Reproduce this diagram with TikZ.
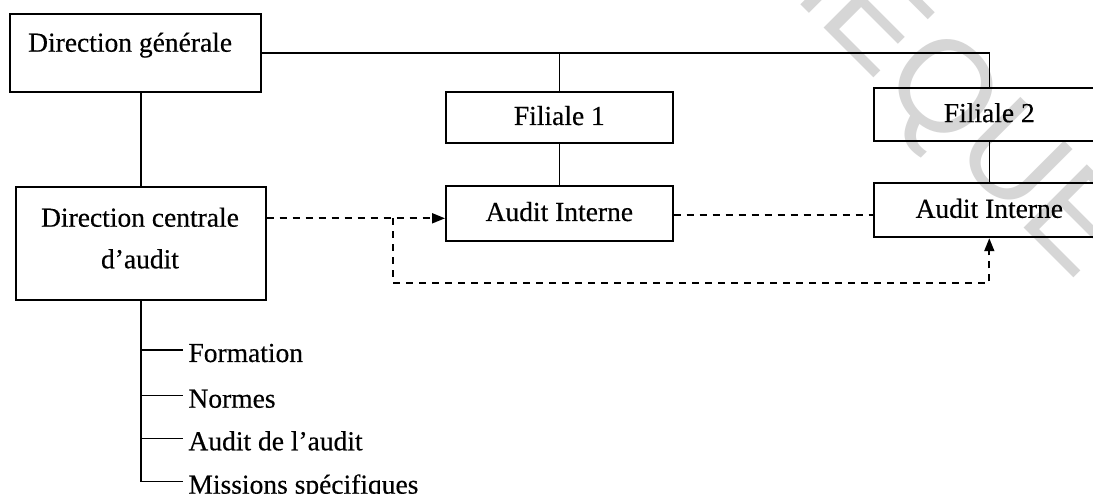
\documentclass[tikz,border=0pt]{standalone}
\usepackage{fontspec}
\setmainfont{Liberation Serif}
\newfontfamily\diagfont{Liberation Serif}[FakeBold=0.4]
\newfontfamily\stampfont{Liberation Sans}
\usetikzlibrary{arrows.meta}

\begin{document}
\begin{tikzpicture}[x=1pt,y=-1pt,
  box/.style={draw, rectangle, line width=1.9pt, inner sep=0pt},
  lbl/.style={font=\diagfont\fontsize{27.5}{33}\selectfont, inner sep=0pt},
  boxlbl/.style={box, font=\diagfont\fontsize{27.5}{33}\selectfont, text height=18pt, text depth=3pt},
  conn/.style={line width=1.5pt},
  link/.style={line width=1.8pt, dash pattern=on 7pt off 6pt},
  tip/.style={-{Triangle[length=13pt,width=10pt]}},
  item/.style={lbl, anchor=west, inner xsep=5pt, inner ysep=0pt, text height=26pt, text depth=2pt},
  stamp/.style={font=\stampfont\fontsize{130}{130}\selectfont, text=black!16, rotate=-45,
                inner sep=0pt, text height=93pt, text depth=0pt}
]
% page
\fill[white] (0,0) rectangle (1093,494);
\useasboundingbox (0,0) rectangle (1093,494);

% library stamp in the background
\begin{scope}
  \clip (0,0) rectangle (1093,494);
  \node[stamp] (wq) at (947,85) {Q};
  \node[stamp, anchor=west] (wue) at (wq.east) {UE};
  \node[stamp, anchor=east] (wbe) at (wq.west) {BIBLIOTHE};
\end{scope}

% head office
\node[box, minimum width=250.7pt, minimum height=77.7pt] (dg) at (135.35,52.85) {};
\node[lbl, anchor=base west] (dgt) at (28,51.7) {Direction générale};

% subsidiaries and their internal audit
\node[boxlbl, minimum width=226.7pt, minimum height=51.6pt] (f1) at (559.35,117.5) {Filiale 1};
\node[boxlbl, minimum width=226.7pt, minimum height=55pt] (ai1) at (559.35,213.5) {Audit Interne};
\node[boxlbl, minimum width=230.6pt, minimum height=52.7pt] (f2) at (989.3,114.65) {Filiale 2};
\node[boxlbl, minimum width=230.6pt, minimum height=54pt] (ai2) at (989.3,210.3) {Audit Interne};

% central audit department
\node[box, minimum width=249.7pt, minimum height=112.7pt] (dca) at (140.85,243.65) {};
\node[lbl, anchor=base] (dcat1) at (140,226.7) {Direction centrale};
\node[lbl, anchor=base] (dcat2) at (140,268.3) {d’audit};

% hierarchy
\draw[conn] (dg.east) -| (f2.north);
\draw[conn] (f1.north) -- (f1.north |- dg.east);
\draw[conn] (dca.north) -- (dca.north |- dg.south);
\draw[conn] (f1.south) -- (ai1.north);
\draw[conn] (f2.south) -- (ai2.north);

% functional links
\coordinate (fork) at (393.3,218.3);
\coordinate (loop) at (393.3,283.3);
\coordinate (peer) at (773,215);
\draw[link, tip] (dca.east |- fork) -- (ai1.west |- fork);
\draw[link] (ai1.east |- peer) -- (ai2.west |- peer);
\draw[link, tip] (fork) -- (loop) -| (ai2.south);

% missions of the central department
\node[item] (fo) at (183.3,350) {Formation};
\node[item] (no) at (183.3,395.7) {Normes};
\node[item] (au) at (183.3,438.3) {Audit de l’audit};
\node[item] (mi) at (183.3,481.7) {Missions spécifiques};
\draw[conn] (dca.south) |- (mi.west);
\foreach \n in {fo,no,au} \draw[conn] (dca.south |- \n.west) -- (\n.west);
\end{tikzpicture}
\end{document}
